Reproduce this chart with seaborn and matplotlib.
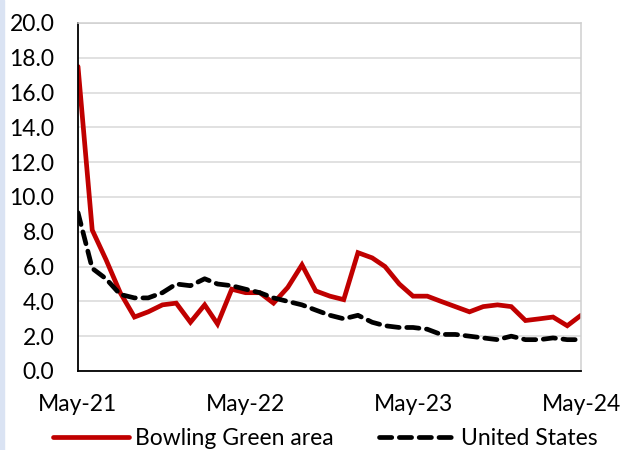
import pandas as pd
import matplotlib
matplotlib.use("Agg")
import matplotlib.pyplot as plt
import matplotlib.dates as mdates
from matplotlib.lines import Line2D
from matplotlib.patches import Rectangle
import seaborn as sns

# monthly series, May-21 .. May-24
months = pd.date_range("2021-05-01", periods=37, freq="MS")
bowling_green = [17.5, 8.1, 6.4, 4.5, 3.1, 3.4, 3.8, 3.9, 2.8, 3.8, 2.7, 4.7,
                 4.5, 4.5, 3.9, 4.8, 6.1, 4.6, 4.3, 4.1, 6.8, 6.5, 6.0, 5.0,
                 4.3, 4.3, 4.0, 3.7, 3.4, 3.7, 3.8, 3.7, 2.9, 3.0, 3.1, 2.6, 3.2]
united_states = [9.1, 5.9, 5.3, 4.4, 4.2, 4.2, 4.5, 5.0, 4.9, 5.3, 5.0, 4.9,
                 4.7, 4.5, 4.2, 4.0, 3.8, 3.5, 3.2, 3.0, 3.2, 2.8, 2.6, 2.5,
                 2.5, 2.4, 2.1, 2.1, 2.0, 1.9, 1.8, 2.0, 1.8, 1.8, 1.9, 1.8, 1.8]
y_ticks = [0, 2, 4, 6, 8, 10, 12, 14, 16, 18, 20]
series_names = ["Bowling Green area", "United States"]

df = pd.DataFrame({"month": months, "bg": bowling_green, "us": united_states})

sns.set_style("white")
plt.rcParams["font.family"] = ["Lato", "DejaVu Sans"]
plt.rcParams["text.color"] = "black"
plt.rcParams["xtick.color"] = "black"
plt.rcParams["ytick.color"] = "black"
fs = 16.5

fig = plt.figure(figsize=(6.21, 4.5), dpi=100)
ax = fig.add_axes([0.1256, 0.1756, 0.81, 0.7733])

red = "#c00000"
dash = (0, (2.6, 1.6))
sns.lineplot(data=df, x="month", y="bg", ax=ax, color=red, linewidth=3.4,
             solid_capstyle="round", solid_joinstyle="miter")
sns.lineplot(data=df, x="month", y="us", ax=ax, color="black", linewidth=3.4,
             linestyle=dash, dash_capstyle="round")

ax.set_ylim(0, 20)
ax.set_yticks(y_ticks)
ax.set_yticklabels([f"{v:.1f}" for v in y_ticks])
ax.set_xlim(months[0], months[-1])
ax.xaxis.set_major_locator(mdates.MonthLocator(bymonth=5))
ax.xaxis.set_major_formatter(mdates.DateFormatter("%b-%y"))
ax.set_xlabel("")
ax.set_ylabel("")

ax.yaxis.grid(True, color="#d9d9d9", linewidth=1.1)
ax.set_axisbelow(True)
for side in ["top", "right"]:
    ax.spines[side].set_color("#d0d0d0")
    ax.spines[side].set_linewidth(1.1)
for side in ["left", "bottom"]:
    ax.spines[side].set_color("black")
    ax.spines[side].set_linewidth(1.3)

ax.tick_params(axis="y", length=0, labelsize=fs, pad=17, labelcolor="black")
ax.tick_params(axis="x", direction="inout", length=11, width=1.2,
               labelsize=fs, pad=11, color="black", labelcolor="black")

handles = [
    Line2D([], [], color=red, linewidth=3.4, solid_capstyle="round"),
    Line2D([], [], color="black", linewidth=3.4, linestyle=dash,
           dash_capstyle="round"),
]
fig.legend(handles, series_names, loc="center", bbox_to_anchor=(0.524, 0.025),
           ncol=2, frameon=False, fontsize=fs, handlelength=3.3,
           handletextpad=0.26, columnspacing=2.0, borderpad=0.2,
           labelcolor="black")

# thin blue edge on the left of the picture
fig.patches.append(Rectangle((0, 0), 0.006, 1, transform=fig.transFigure,
                             color="#dae3f3", zorder=0))

fig.savefig("out.png", dpi=100)
plt.close(fig)
